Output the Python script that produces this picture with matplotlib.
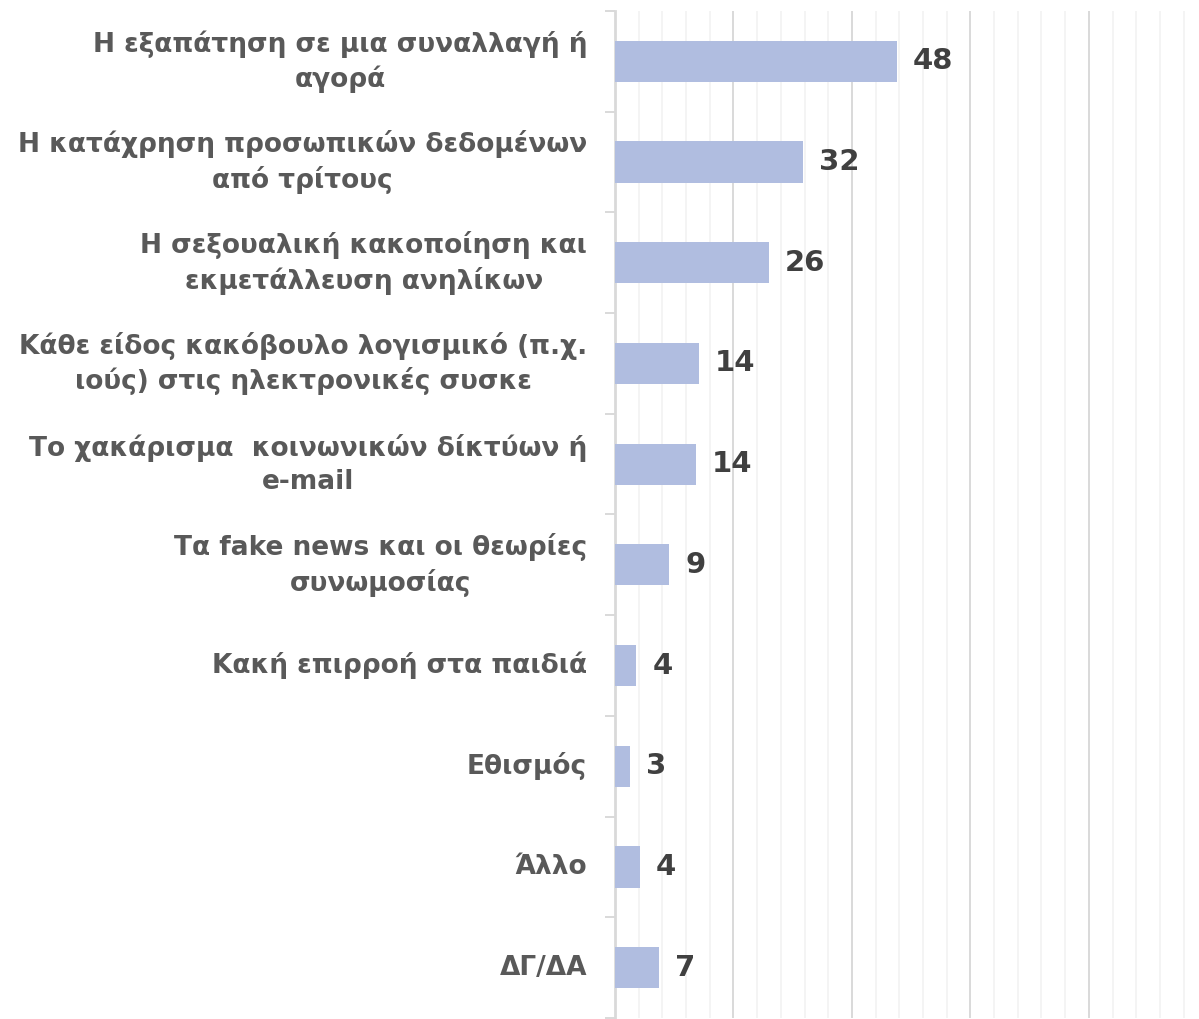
import matplotlib.pyplot as plt
from matplotlib.ticker import MultipleLocator, FixedLocator

plt.rcParams['font.family'] = ['DejaVu Sans']

# categories, top to bottom
categories = [
    "Η εξαπάτηση σε μια συναλλαγή ή\nαγορά",
    "Η κατάχρηση προσωπικών δεδομένων\nαπό τρίτους",
    "Η σεξουαλική κακοποίηση και\nεκμετάλλευση ανηλίκων",
    "Κάθε είδος κακόβουλο λογισμικό (π.χ.\nιούς) στις ηλεκτρονικές συσκε",
    "Το χακάρισμα  κοινωνικών δίκτύων ή\ne-mail",
    "Τα fake news και οι θεωρίες\nσυνωμοσίας",
    "Κακή επιρροή στα παιδιά",
    "Εθισμός",
    "Άλλο",
    "ΔΓ/ΔΑ",
]
# bar lengths (labels show rounded values)
values = [47.6, 31.7, 26.0, 14.2, 13.6, 9.2, 3.6, 2.6, 4.2, 7.4]

fig = plt.figure(figsize=(11.99, 10.19), dpi=100)
ax = fig.add_axes([615 / 1199, 1 / 1019, 584 / 1199, 1007 / 1019])

y = list(range(len(categories)))
ax.barh(y, values, height=0.41, color='#b0bde0', zorder=3)

for yi, v in zip(y, values):
    ax.annotate(f"{round(v)}", (v, yi), xytext=(11.5, 0), textcoords='offset points',
                ha='left', va='center', fontsize=21, fontweight='bold', color='#404040')

ax.set_xlim(0, 98.6)
ax.set_ylim(len(categories) - 0.5, -0.5)

ax.xaxis.set_major_locator(MultipleLocator(20))
ax.xaxis.set_minor_locator(MultipleLocator(4))
ax.grid(which='major', axis='x', color='#d9d9d9', linewidth=1.4, zorder=0)
ax.grid(which='minor', axis='x', color='#f2f2f2', linewidth=1.2, zorder=0)
ax.tick_params(axis='x', which='both', length=0, labelbottom=False)

ax.set_yticks(y)
ax.set_yticklabels(categories, fontsize=19, fontweight='bold', color='#595959',
                   multialignment='center', linespacing=1.35)
for lbl in ax.get_yticklabels():
    lbl.set_va('center')
ax.yaxis.set_minor_locator(FixedLocator([i - 0.5 for i in range(len(categories) + 1)]))
ax.tick_params(axis='y', which='major', length=0, pad=20)
ax.tick_params(axis='y', which='minor', length=7, width=1.4, color='#d9d9d9')

for s in ['top', 'right', 'bottom']:
    ax.spines[s].set_visible(False)
ax.spines['left'].set_color('#d9d9d9')
ax.spines['left'].set_linewidth(2)

fig.savefig('out.png', dpi=100)
